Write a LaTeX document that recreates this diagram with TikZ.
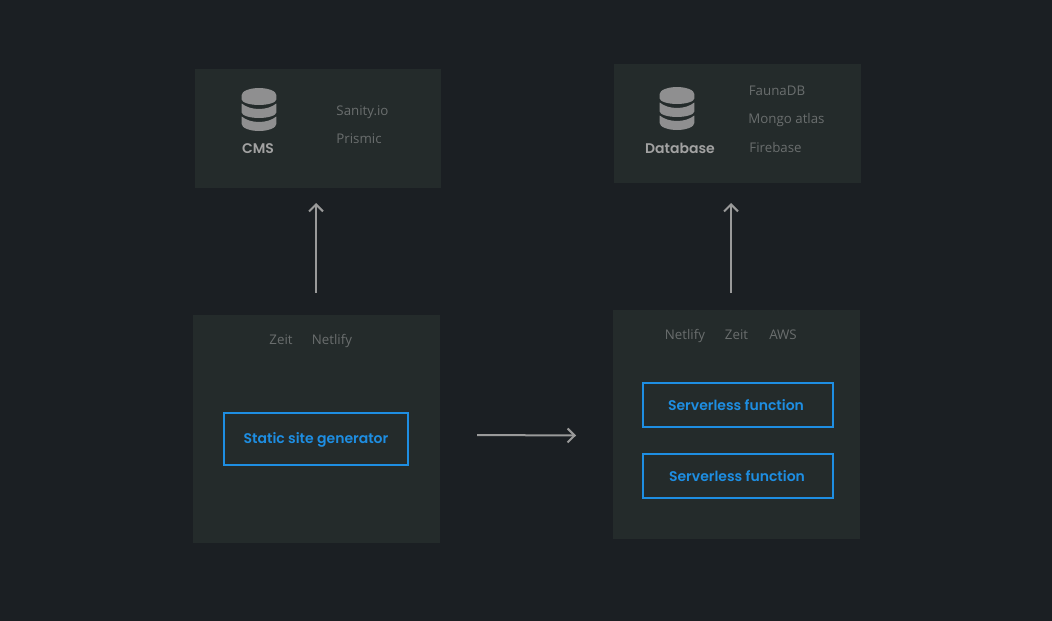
\documentclass[tikz,border=0pt]{standalone}
\usepackage{fontspec}
\setmainfont{Open Sans}
\newfontfamily\pop{Poppins SemiBold}
\definecolor{bgc}{HTML}{1B1F23}
\definecolor{panelc}{HTML}{242B2B}
\definecolor{listc}{HTML}{6A6E6E}
\definecolor{headc}{HTML}{A2A2A2}
\definecolor{iconc}{HTML}{8F8F90}
\definecolor{bluec}{HTML}{1E8EE2}
\definecolor{arrowc}{HTML}{9A9A9A}
\usetikzlibrary{arrows.meta}
\tikzset{
  panel/.style={fill=panelc,draw=none,minimum width=#1,inner sep=0pt,outer sep=0pt},
  listtext/.style={text=listc,font=\fontsize{13.3}{15}\selectfont,inner sep=0pt,anchor=base},
  headtext/.style={text=headc,font=\pop\fontsize{14}{15}\selectfont,inner sep=0pt,anchor=base},
  bluebox/.style={draw=bluec,line width=2.2pt,inner sep=0pt,outer sep=0pt},
  bluetext/.style={text=bluec,font=\pop\fontsize{14}{15}\selectfont,inner sep=0pt,anchor=base},
  flow/.style={draw=arrowc,line width=2pt,-{Straight Barb[length=7pt,width=14pt,line width=2pt]}},
  dbicon/.pic={
    \fill[iconc] (-17.3,-14) .. controls (-17.3,-18) and (-9,-21) .. (0,-21) .. controls (9,-21) and (17.3,-18) .. (17.3,-14) -- (17.3,-9.5) .. controls (17.3,-6.5) and (9,-4) .. (0,-4) .. controls (-9,-4) and (-17.3,-6.5) .. (-17.3,-9.5) -- cycle;
    \fill[iconc] (-17.3,-5.5) .. controls (-13,-2) and (-7,0) .. (0,0) .. controls (7,0) and (13,-2) .. (17.3,-5.5) -- (17.3,3.5) .. controls (17.3,6.5) and (9,9) .. (0,9) .. controls (-9,9) and (-17.3,6.5) .. (-17.3,3.5) -- cycle;
    \fill[iconc] (-17.3,7.5) .. controls (-13,11) and (-7,13) .. (0,13) .. controls (7,13) and (13,11) .. (17.3,7.5) -- (17.3,15) .. controls (17.3,19) and (9,22) .. (0,22) .. controls (-9,22) and (-17.3,19) .. (-17.3,15) -- cycle;
  }
}
\begin{document}
\begin{tikzpicture}[x=1pt,y=-1pt]
\useasboundingbox[fill=bgc] (0,0) rectangle (1052,621);
% panels
\node[panel=246pt,minimum height=119pt] (cms) at (318,128.5) {};
\node[panel=247pt,minimum height=119pt] (db) at (737.5,123.5) {};
\node[panel=247pt,minimum height=228pt] (ssg) at (316.5,429) {};
\node[panel=247pt,minimum height=229pt] (fn) at (736.5,424.5) {};
% icons
\pic at (259,109) {dbicon};
\pic at (677,108) {dbicon};
% headings
\node[headtext] (cmsh) at (258,153) {CMS};
\node[headtext] (dbh) at (680,153) {Database};
% lists
\node[listtext] (t1) at (362.5,115) {Sanity.io};
\node[listtext] (t2) at (359,143) {Prismic};
\node[listtext] (t3) at (777,95) {FaunaDB};
\node[listtext] (t4) at (786.5,123) {Mongo atlas};
\node[listtext] (t5) at (775.5,152) {Firebase};
\node[listtext] (t6) at (281,344) {Zeit};
\node[listtext] (t7) at (332,344) {Netlify};
\node[listtext] (t8) at (685,339) {Netlify};
\node[listtext] (t9) at (736.5,339) {Zeit};
\node[listtext] (t10) at (783,339) {AWS};
% blue boxes
\node[bluebox,minimum width=184pt,minimum height=52pt] (b1) at (316,439) {};
\node[bluebox,minimum width=189.5pt,minimum height=43.5pt] (b2) at (738,405) {};
\node[bluebox,minimum width=189.5pt,minimum height=43.5pt] (b3) at (738,476) {};
\node[bluetext] (b1t) at (316,443) {Static site generator};
\node[bluetext] (b2t) at (736,410) {Serverless function};
\node[bluetext] (b3t) at (737,481) {Serverless function};
% arrows
\coordinate (a1s) at (316,293);
\coordinate (a1e) at (316,203);
\coordinate (a2s) at (731,293);
\coordinate (a2e) at (731,203);
\coordinate (a3s) at (477,435);
\coordinate (a3e) at (576,435.5);
\draw[flow] (a1s) -- (a1e);
\draw[flow] (a2s) -- (a2e);
\draw[flow] (a3s) -- (a3e);
\end{tikzpicture}
\end{document}
